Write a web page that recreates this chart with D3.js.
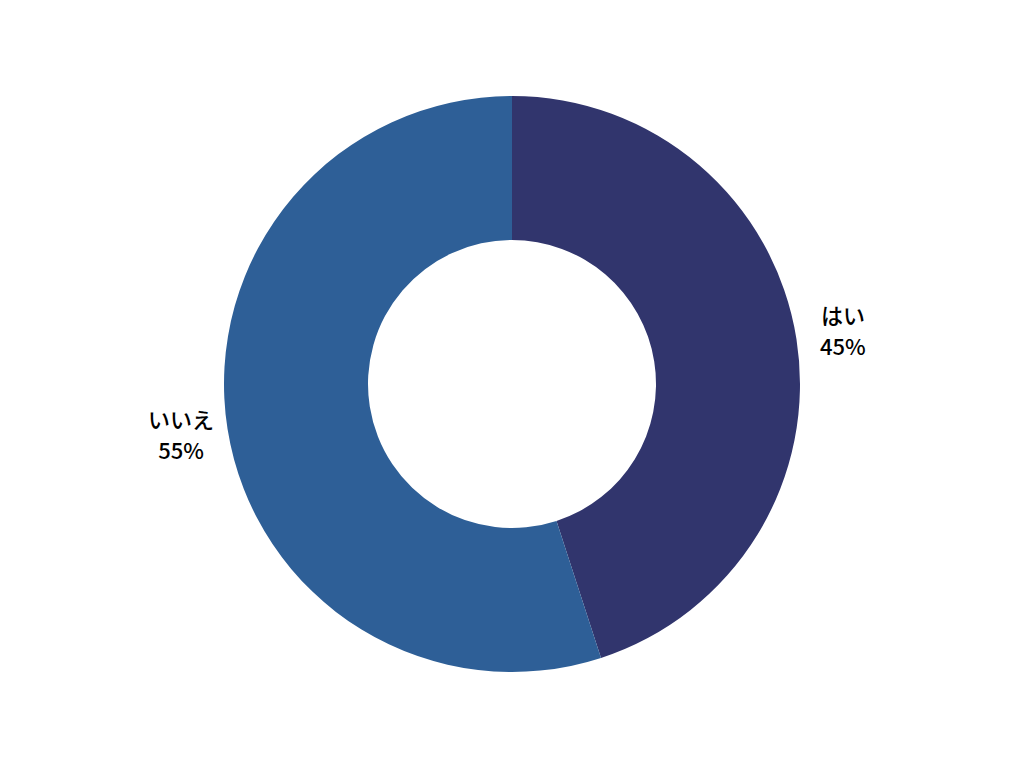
<!DOCTYPE html>
<head>
<meta charset="utf-8">
<title>Donut</title>
<style>
body { margin: 0; background: #fff; }
.label { font-family: "Noto Sans CJK JP", "Noto Sans", sans-serif; font-size: 22px; font-weight: 500; fill: #000; }
</style>
<script src="https://cdn.jsdelivr.net/npm/d3@7"></script>
</head>
<body>
<script>
// data
var categories = ["はい", "いいえ"];
var values = [45, 55];
var colors = ["#31356d", "#2e5f97"];

var width = 1024, height = 768,
    cx = 512, cy = 384,
    outerR = 288, innerR = 144, labelR = 335;

var svg = d3.select("body").append("svg")
    .attr("width", width)
    .attr("height", height);

var g = svg.append("g")
    .attr("transform", "translate(" + cx + "," + cy + ")");

var data = categories.map(function(c, i) { return { name: c, value: values[i], color: colors[i] }; });

var pie = d3.pie().sort(null).value(function(d) { return d.value; });
var arc = d3.arc().innerRadius(innerR).outerRadius(outerR);
var labelArc = d3.arc().innerRadius(labelR).outerRadius(labelR);

var arcs = pie(data);

// slices
g.selectAll("path")
    .data(arcs)
  .enter().append("path")
    .attr("d", arc)
    .attr("fill", function(d) { return d.data.color; });

// labels: name + percent, outside each slice
var total = d3.sum(values);
var labels = g.selectAll("text.label")
    .data(arcs)
  .enter().append("text")
    .attr("class", "label")
    .attr("text-anchor", "middle")
    .attr("transform", function(d) { return "translate(" + labelArc.centroid(d) + ")"; });

labels.append("tspan")
    .attr("x", 0)
    .attr("y", -8)
    .text(function(d) { return d.data.name; });

labels.append("tspan")
    .attr("x", 0)
    .attr("y", 23)
    .text(function(d) { return Math.round(d.data.value / total * 100) + "%"; });
</script>
</body>
